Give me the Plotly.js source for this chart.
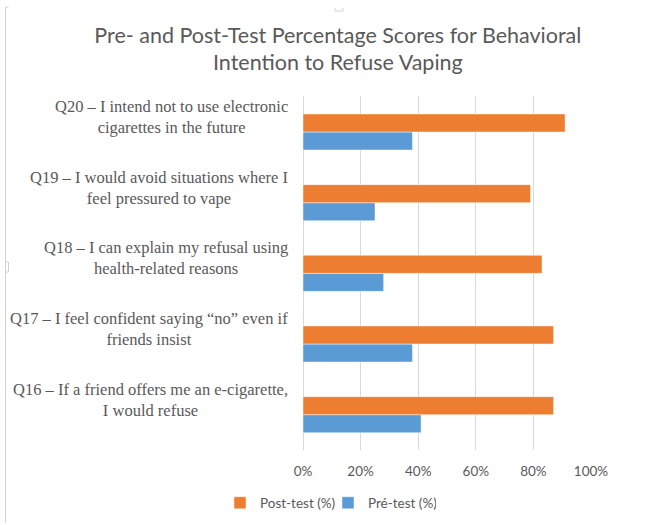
<!DOCTYPE html>
<html>
<head>
<meta charset="utf-8">
<script src="https://cdn.plot.ly/plotly-3.0.1.min.js"></script>
<style>
  html, body { margin: 0; padding: 0; background: #ffffff; }
  #chart { width: 669px; height: 525px; }
</style>
</head>
<body>
<div id="chart"></div>
<script>
// Survey items, bottom to top
const categories = [
  'Q16 – If a friend offers me an e-cigarette,<br>I would refuse',
  'Q17 – I feel confident saying “no” even if<br>friends insist',
  'Q18 – I can explain my refusal using<br>health-related reasons',
  'Q19 – I would avoid situations where I<br>feel pressured to vape',
  'Q20 – I intend not to use electronic<br>cigarettes in the future'
];
const preTest = [41, 38, 28, 25, 38];
const postTest = [87, 87, 83, 79, 91];
const seriesNames = ['Pré-test (%)', 'Post-test (%)'];
const xTicks = [0, 20, 40, 60, 80, 100];
const xTickText = xTicks.map(v => v + '%');

// Layout geometry (pixels)
const W = 669, H = 525;
const M = { l: 303, r: 78, t: 96, b: 75 };
const plotW = W - M.l - M.r, plotH = H - M.t - M.b;
const px = x => (x - M.l) / plotW;
const py = y => (H - M.b - y) / plotH;

const grey = '#595959';
const frameGrey = '#d2d2d2';
const sans = 'Lato, Open Sans, sans-serif';
const serif = 'Liberation Serif, Times New Roman, serif';

const traces = [
  {
    type: 'bar', orientation: 'h', name: seriesNames[0],
    x: preTest, y: categories,
    marker: { color: '#5B9BD5', line: { color: 'rgba(255,255,255,0.45)', width: 1 } },
    hoverinfo: 'skip'
  },
  {
    type: 'bar', orientation: 'h', name: seriesNames[1],
    x: postTest, y: categories,
    marker: { color: '#ED7D31', line: { color: 'rgba(255,255,255,0.45)', width: 1 } },
    hoverinfo: 'skip'
  }
];

// Category labels: centred multi-line text, right edge just left of the plot
const labelAnnotations = categories.map(c => ({
  xref: 'paper', yref: 'y',
  x: 0, y: c,
  xanchor: 'right', yanchor: 'middle',
  xshift: -14, yshift: 15,
  text: c, align: 'center', showarrow: false, borderpad: 0,
  font: { family: serif, size: 16.5, color: grey }
}));

// Thin frame marks around the chart area
const frameShapes = [
  { type: 'line', xref: 'paper', yref: 'paper', x0: px(5.5), x1: px(5.5), y0: py(7), y1: py(523),
    line: { color: frameGrey, width: 1 } },
  { type: 'line', xref: 'paper', yref: 'paper', x0: px(5.5), x1: px(8.5), y0: py(7), y1: py(7),
    line: { color: frameGrey, width: 1 } },
  { type: 'path', xref: 'paper', yref: 'paper',
    path: `M${px(5.5)},${py(262)} L${px(8.5)},${py(262)} L${px(8.5)},${py(272)} L${px(5.5)},${py(272)}`,
    line: { color: frameGrey, width: 1 } },
  { type: 'path', xref: 'paper', yref: 'paper',
    path: `M${px(335)},${py(8)} L${px(335)},${py(11)} L${px(343)},${py(11)} L${px(343)},${py(8)}`,
    line: { color: frameGrey, width: 1 } }
];

const layout = {
  width: W, height: H,
  margin: M,
  paper_bgcolor: '#ffffff', plot_bgcolor: '#ffffff',
  font: { family: sans, color: grey },
  title: {
    text: 'Pre- and Post-Test Percentage Scores for Behavioral<br>Intention to Refuse Vaping',
    font: { family: sans, size: 21.5, color: grey },
    xref: 'container', x: 0.505, xanchor: 'center',
    yref: 'container', y: 1 - 42.5 / H, yanchor: 'middle'
  },
  barmode: 'group',
  bargap: 0.49,
  bargroupgap: 0,
  xaxis: {
    range: [0, 100], tickmode: 'array', tickvals: xTicks, ticktext: xTickText,
    showgrid: true, gridcolor: '#d9d9d9', gridwidth: 1,
    zeroline: true, zerolinecolor: '#d9d9d9', zerolinewidth: 1,
    showline: false, ticks: '', ticklabelstandoff: 11,
    tickfont: { family: sans, size: 13.5, color: grey },
    fixedrange: true
  },
  yaxis: {
    type: 'category', categoryorder: 'array', categoryarray: categories,
    showticklabels: false, showgrid: false, zeroline: false, showline: false, ticks: '',
    fixedrange: true
  },
  showlegend: true,
  legend: {
    orientation: 'h', traceorder: 'reversed',
    xref: 'container', yref: 'container',
    x: 220 / W, xanchor: 'left',
    y: 1 - 503 / H, yanchor: 'middle',
    itemgap: 0, entrywidth: 63,
    font: { family: sans, size: 13.5, color: grey },
    bgcolor: 'rgba(0,0,0,0)'
  },
  annotations: labelAnnotations,
  shapes: frameShapes
};

Plotly.newPlot('chart', traces, layout, { staticPlot: true, displayModeBar: false });
</script>
</body>
</html>
